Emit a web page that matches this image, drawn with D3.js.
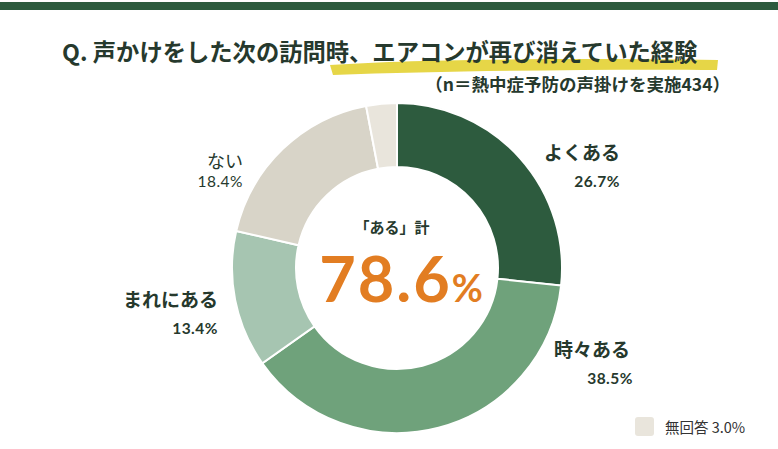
<!DOCTYPE html>
<html>
<head>
<meta charset="utf-8">
<script src="https://cdn.jsdelivr.net/npm/d3@7/dist/d3.min.js"></script>
<style>
  html, body { margin: 0; padding: 0; background: #fff; }
  svg { display: block; font-family: "Noto Sans CJK JP", "Noto Sans", sans-serif; }
  .num { font-family: Lato, "Noto Sans CJK JP", sans-serif; }
</style>
</head>
<body>
<svg id="chart" width="778" height="449"></svg>
<script>
// answers, clockwise from 12 o'clock
const categories = ["よくある", "時々ある", "まれにある", "ない", "無回答"];
const values = [26.7, 38.5, 13.4, 18.4, 3.0];
const colors = ["#2d5b3e", "#6fa27b", "#a6c5b1", "#d8d4c8", "#e9e5dc"];
const totalLabel = "「ある」計";
const totalValue = 78.6;

const svg = d3.select("#chart");
const width = +svg.attr("width");
const cx = 397, cy = 268;
const outer = 165, inner = 101;
const textColor = "#26392d";

// top band
svg.append("rect").attr("x", 0).attr("y", 2).attr("width", width).attr("height", 8).attr("fill", "#2d5b3e");

// yellow brush under part of the title
svg.append("path")
  .attr("d", "M330,65 C420,59 560,58 718,60 L717,70 C600,69 450,71 333,75 Z")
  .attr("fill", "#e3d233")
  .attr("opacity", 0.9);

svg.append("text")
  .attr("x", 62).attr("y", 61)
  .attr("font-size", 23.3).attr("font-weight", 700)
  .attr("fill", textColor)
  .text("Q. 声かけをした次の訪問時、エアコンが再び消えていた経験");

svg.append("text")
  .attr("x", 730).attr("y", 91)
  .attr("text-anchor", "end")
  .attr("font-size", 17.5).attr("font-weight", 700)
  .attr("fill", textColor)
  .text("（n＝熱中症予防の声掛けを実施434）");

const pie = d3.pie().sort(null).value(d => d.value);
const arc = d3.arc().innerRadius(inner).outerRadius(outer);
const data = categories.map((c, i) => ({ name: c, value: values[i], color: colors[i] }));

const g = svg.append("g").attr("transform", `translate(${cx},${cy})`);
g.selectAll("path")
  .data(pie(data))
  .join("path")
  .attr("d", arc)
  .attr("fill", d => d.data.color)
  .attr("stroke", "#fff")
  .attr("stroke-width", 2);

// slice labels, right-aligned at x
const labelPos = [
  { x: 620, y: 160, bold: true },
  { x: 630, y: 357, bold: true },
  { x: 218, y: 307, bold: true },
  { x: 243, y: 168, bold: false }
];
labelPos.forEach((p, i) => {
  svg.append("text")
    .attr("x", p.x).attr("y", p.y)
    .attr("text-anchor", "end")
    .attr("font-size", p.bold ? 19 : 18).attr("font-weight", p.bold ? 700 : 400)
    .attr("fill", textColor)
    .text(categories[i]);
  svg.append("text")
    .attr("class", "num")
    .attr("x", p.x + (i === 1 ? 3 : 0)).attr("y", p.y + 27 - (p.bold ? 0 : 8))
    .attr("text-anchor", "end")
    .attr("font-size", 15.5).attr("font-weight", p.bold ? 700 : 400)
    .attr("letter-spacing", 0.5)
    .attr("fill", textColor)
    .text(values[i].toFixed(1) + "%");
});

// centre total
svg.append("text")
  .attr("x", 392).attr("y", 233)
  .attr("text-anchor", "middle")
  .attr("font-size", 15).attr("font-weight", 700)
  .attr("fill", textColor)
  .text(totalLabel);

const big = svg.append("text")
  .attr("class", "num")
  .attr("x", 401).attr("y", 302)
  .attr("text-anchor", "middle")
  .attr("font-weight", 700)
  .attr("fill", "#e27d22");
big.append("tspan").attr("font-size", 63).attr("letter-spacing", 2).text(totalValue.toFixed(1));
big.append("tspan").attr("font-size", 38).text("%");

// legend for the small slice
svg.append("rect")
  .attr("x", 635).attr("y", 417).attr("width", 19).attr("height", 19)
  .attr("rx", 3).attr("fill", colors[4]);
svg.append("text")
  .attr("x", 665).attr("y", 433)
  .attr("font-size", 14.5)
  .attr("fill", "#333")
  .text(categories[4] + " " + values[4].toFixed(1) + "%");
</script>
</body>
</html>
